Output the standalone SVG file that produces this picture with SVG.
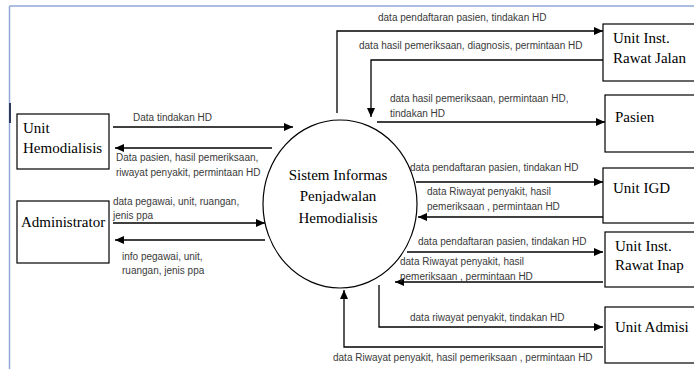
<svg xmlns="http://www.w3.org/2000/svg" width="694" height="369" viewBox="0 0 694 369">
<style>
.box{fill:#fff;stroke:#000;stroke-width:1.2}
.nt{font-size:15px;fill:#000}
.lb{font-size:10px;fill:#3a3a3a}
.ln{fill:none;stroke:#000;stroke-width:1.3}
.fr{stroke:#8fa8d6;stroke-width:1.5}
</style>
<defs>
<marker id="ah" markerUnits="userSpaceOnUse" markerWidth="9" markerHeight="8" refX="9" refY="4" orient="auto">
<path d="M0,0 L9,4 L0,8 z" fill="#000"/>
</marker>
</defs>
<rect width="694" height="369" fill="#fff"/>
<g id="frame">
<line class="fr" x1="9.5" y1="6" x2="694" y2="6"/>
<line class="fr" x1="9.5" y1="6" x2="9.5" y2="369"/>
<line x1="10" y1="103" x2="10" y2="123" stroke="#2f3b5a" stroke-width="2"/>
</g>
<g id="connectors">
<polyline class="ln" points="337,113 337,31 603,31" marker-end="url(#ah)"/>
<polyline class="ln" points="603,60 371,60 371,117" marker-end="url(#ah)"/>
<line class="ln" x1="377" y1="122" x2="605" y2="122" marker-end="url(#ah)"/>
<line class="ln" x1="113" y1="127" x2="293" y2="127" marker-end="url(#ah)"/>
<line class="ln" x1="272" y1="148" x2="115" y2="148" marker-end="url(#ah)"/>
<line class="ln" x1="113" y1="223" x2="265" y2="223" marker-end="url(#ah)"/>
<line class="ln" x1="265" y1="240" x2="115" y2="240" marker-end="url(#ah)"/>
<line class="ln" x1="416" y1="182" x2="603" y2="182" marker-end="url(#ah)"/>
<line class="ln" x1="603" y1="217" x2="418" y2="217" marker-end="url(#ah)"/>
<line class="ln" x1="407" y1="252" x2="603" y2="252" marker-end="url(#ah)"/>
<line class="ln" x1="603" y1="282" x2="395" y2="282" marker-end="url(#ah)"/>
<polyline class="ln" points="379,285 379,327 603,327" marker-end="url(#ah)"/>
<polyline class="ln" points="603,347 344,347 344,290" marker-end="url(#ah)"/>
</g>
<g id="labels" font-family="'Liberation Sans', Arial, sans-serif">
<text class="lb" x="378" y="21">data pendaftaran pasien, tindakan HD</text>
<text class="lb" x="359" y="49">data hasil pemeriksaan, diagnosis, permintaan HD</text>
<text class="lb" x="390" y="102">data hasil pemeriksaan, permintaan HD,</text>
<text class="lb" x="390" y="117">tindakan HD</text>
<text class="lb" x="133" y="121">Data tindakan HD</text>
<text class="lb" x="116" y="161">Data pasien, hasil pemeriksaan,</text>
<text class="lb" x="116" y="176">riwayat penyakit, permintaan HD</text>
<text class="lb" x="113" y="205">data pegawai, unit, ruangan,</text>
<text class="lb" x="113" y="219">jenis ppa</text>
<text class="lb" x="122" y="260">info pegawai, unit,</text>
<text class="lb" x="122" y="274">ruangan, jenis ppa</text>
<text class="lb" x="410" y="171">data pendaftaran pasien, tindakan HD</text>
<text class="lb" x="427" y="195">data Riwayat penyakit, hasil</text>
<text class="lb" x="427" y="210">pemeriksaan , permintaan HD</text>
<text class="lb" x="418" y="245">data pendaftaran pasien, tindakan HD</text>
<text class="lb" x="400" y="265">data Riwayat penyakit, hasil</text>
<text class="lb" x="400" y="280">pemeriksaan , permintaan HD</text>
<text class="lb" x="410" y="321">data riwayat penyakit, tindakan HD</text>
<text class="lb" x="333" y="361">data Riwayat penyakit, hasil pemeriksaan , permintaan HD</text>
</g>
<g id="sistem" font-family="'Liberation Serif', 'Times New Roman', serif">
<ellipse cx="340" cy="204" rx="77" ry="84" fill="none" stroke="#000" stroke-width="1.2"/>
<text class="nt" x="338" y="180" text-anchor="middle">Sistem Informas</text>
<text class="nt" x="338" y="201" text-anchor="middle">Penjadwalan</text>
<text class="nt" x="338" y="223" text-anchor="middle">Hemodialisis</text>
</g>
<g id="unit-hemodialisis" font-family="'Liberation Serif', 'Times New Roman', serif">
<rect class="box" x="17" y="114" width="92" height="55"/>
<text class="nt" x="23" y="133">Unit</text>
<text class="nt" x="23" y="153">Hemodialisis</text>
</g>
<g id="administrator" font-family="'Liberation Serif', 'Times New Roman', serif">
<rect class="box" x="17" y="201" width="92" height="62"/>
<text class="nt" x="21" y="227">Administrator</text>
</g>
<g id="rawat-jalan" font-family="'Liberation Serif', 'Times New Roman', serif">
<rect class="box" x="603" y="24" width="100" height="57"/>
<text class="nt" x="613" y="43">Unit Inst.</text>
<text class="nt" x="613" y="63">Rawat Jalan</text>
</g>
<g id="pasien" font-family="'Liberation Serif', 'Times New Roman', serif">
<rect class="box" x="605" y="95" width="100" height="57"/>
<text class="nt" x="615" y="122">Pasien</text>
</g>
<g id="unit-igd" font-family="'Liberation Serif', 'Times New Roman', serif">
<rect class="box" x="603" y="168" width="100" height="55"/>
<text class="nt" x="613" y="193">Unit IGD</text>
</g>
<g id="rawat-inap" font-family="'Liberation Serif', 'Times New Roman', serif">
<rect class="box" x="605" y="232" width="100" height="55"/>
<text class="nt" x="615" y="251">Unit Inst.</text>
<text class="nt" x="615" y="270">Rawat Inap</text>
</g>
<g id="unit-admisi" font-family="'Liberation Serif', 'Times New Roman', serif">
<rect class="box" x="605" y="307" width="100" height="56"/>
<text class="nt" x="615" y="332">Unit Admisi</text>
</g>
</svg>
